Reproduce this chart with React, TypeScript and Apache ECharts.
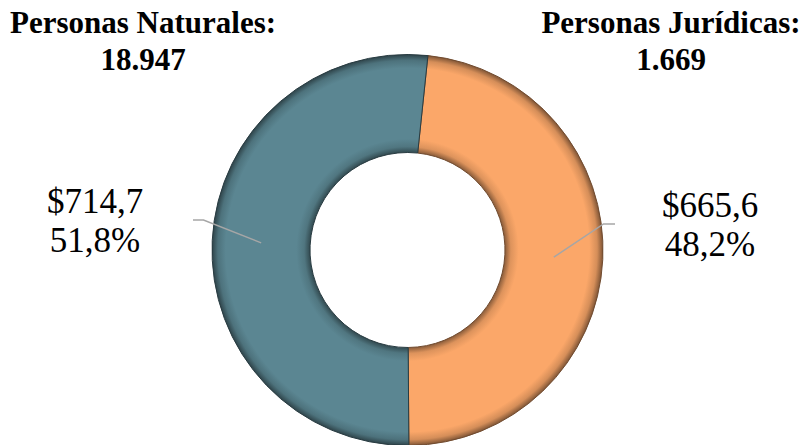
import React, { useEffect, useRef } from "react";
import * as echarts from "echarts";

// ---- data ----
const categories = ["Personas Jurídicas", "Personas Naturales"];
const amounts = [665.6, 714.7];
const counts = [1669, 18947];
const sliceColors = ["#fba769", "#5b8692"];

// ---- layout (pixels) ----
const CX = 407.5;
const CY = 250;
const R_OUT = 195.5;
const R_IN = 97.5;
const FONT = "'Times New Roman', 'Liberation Serif', Times, serif";
const labelPos = [
  { x: 710, y: 225, lineEndX: 615, bendX: 603.5, lineY: 224 },
  { x: 95, y: 221, lineEndX: 193, bendX: 203.5, lineY: 220 },
];
const titlePos = [
  { left: 671, top: 4 },
  { left: 143, top: 4 },
];

const fmtThousands = (n: number) =>
  String(n).replace(/\B(?=(\d{3})+(?!\d))/g, ".");
const fmtDec = (n: number) => n.toFixed(1).replace(".", ",");

function shade(hex: string, f: number) {
  const n = parseInt(hex.slice(1), 16);
  let r = (n >> 16) & 255, g = (n >> 8) & 255, b = n & 255;
  if (f < 0) {
    r = Math.round(r * (1 + f)); g = Math.round(g * (1 + f)); b = Math.round(b * (1 + f));
  } else {
    r = Math.round(r + (255 - r) * f); g = Math.round(g + (255 - g) * f); b = Math.round(b + (255 - b) * f);
  }
  return `rgb(${r},${g},${b})`;
}

function bevel(base: string) {
  const k = R_IN / R_OUT;
  return {
    type: "radial",
    x: CX,
    y: CY,
    r: R_OUT,
    global: true,
    colorStops: [
      { offset: 0, color: shade(base, -0.45) },
      { offset: k, color: shade(base, -0.45) },
      { offset: k + 0.03, color: shade(base, -0.12) },
      { offset: k + 0.07, color: base },
      { offset: 0.93, color: base },
      { offset: 0.97, color: shade(base, -0.15) },
      { offset: 1, color: shade(base, -0.5) },
    ],
  };
}

export default function App() {
  const ref = useRef<HTMLDivElement>(null);
  useEffect(() => {
    document.body.style.margin = "0";
    if (!ref.current) return;
    const chart = echarts.init(ref.current, undefined, { renderer: "svg" });
    const total = amounts.reduce((a, b) => a + b, 0);
    const data = categories.map((name, i) => ({ name, value: amounts[i] }));

    chart.setOption({
      animation: false,
      backgroundColor: "#ffffff",
      title: categories.map((c, i) => ({
        text: `${c}:\n${fmtThousands(counts[i])}`,
        left: titlePos[i].left,
        top: titlePos[i].top,
        textAlign: "center",
        padding: 0,
        textStyle: {
          fontFamily: FONT,
          fontWeight: "bold",
          fontSize: 31,
          lineHeight: 37,
          color: "#000",
        },
      })),
      series: [
        {
          type: "pie",
          center: [CX, CY],
          radius: [R_IN, R_OUT],
          startAngle: 84,
          clockwise: true,
          silent: true,
          label: { show: false },
          labelLine: { show: false },
          data: data.map((d, i) => ({
            ...d,
            itemStyle: {
              color: bevel(sliceColors[i]),
              borderColor: shade(sliceColors[i], -0.55),
              borderWidth: 1,
            },
          })),
        },
        {
          type: "pie",
          center: [CX, CY],
          radius: [0, (R_IN + R_OUT) / 2],
          startAngle: 84,
          clockwise: true,
          silent: true,
          z: 5,
          avoidLabelOverlap: false,
          itemStyle: { color: "rgba(0,0,0,0)" },
          label: {
            show: true,
            position: "outside",
            formatter: (p: any) =>
              `$${fmtDec(amounts[p.dataIndex])}\n${fmtDec((amounts[p.dataIndex] / total) * 100)}%`,
            fontFamily: FONT,
            fontSize: 35,
            lineHeight: 39,
            color: "#000",
            align: "center",
          },
          labelLine: {
            show: true,
            lineStyle: { color: "#a6a6a6", width: 1.5 },
          },
          labelLayout: (params: any) => {
            const lp = labelPos[params.dataIndex];
            const start = params.labelLinePoints ? params.labelLinePoints[0] : [CX, CY];
            return {
              x: lp.x,
              y: lp.y,
              align: "center",
              verticalAlign: "middle",
              labelLinePoints: [start, [lp.bendX, lp.lineY], [lp.lineEndX, lp.lineY]],
            };
          },
          data,
        },
      ],
    });
    return () => chart.dispose();
  }, []);
  return <div ref={ref} style={{ width: 803, height: 445 }} />;
}
